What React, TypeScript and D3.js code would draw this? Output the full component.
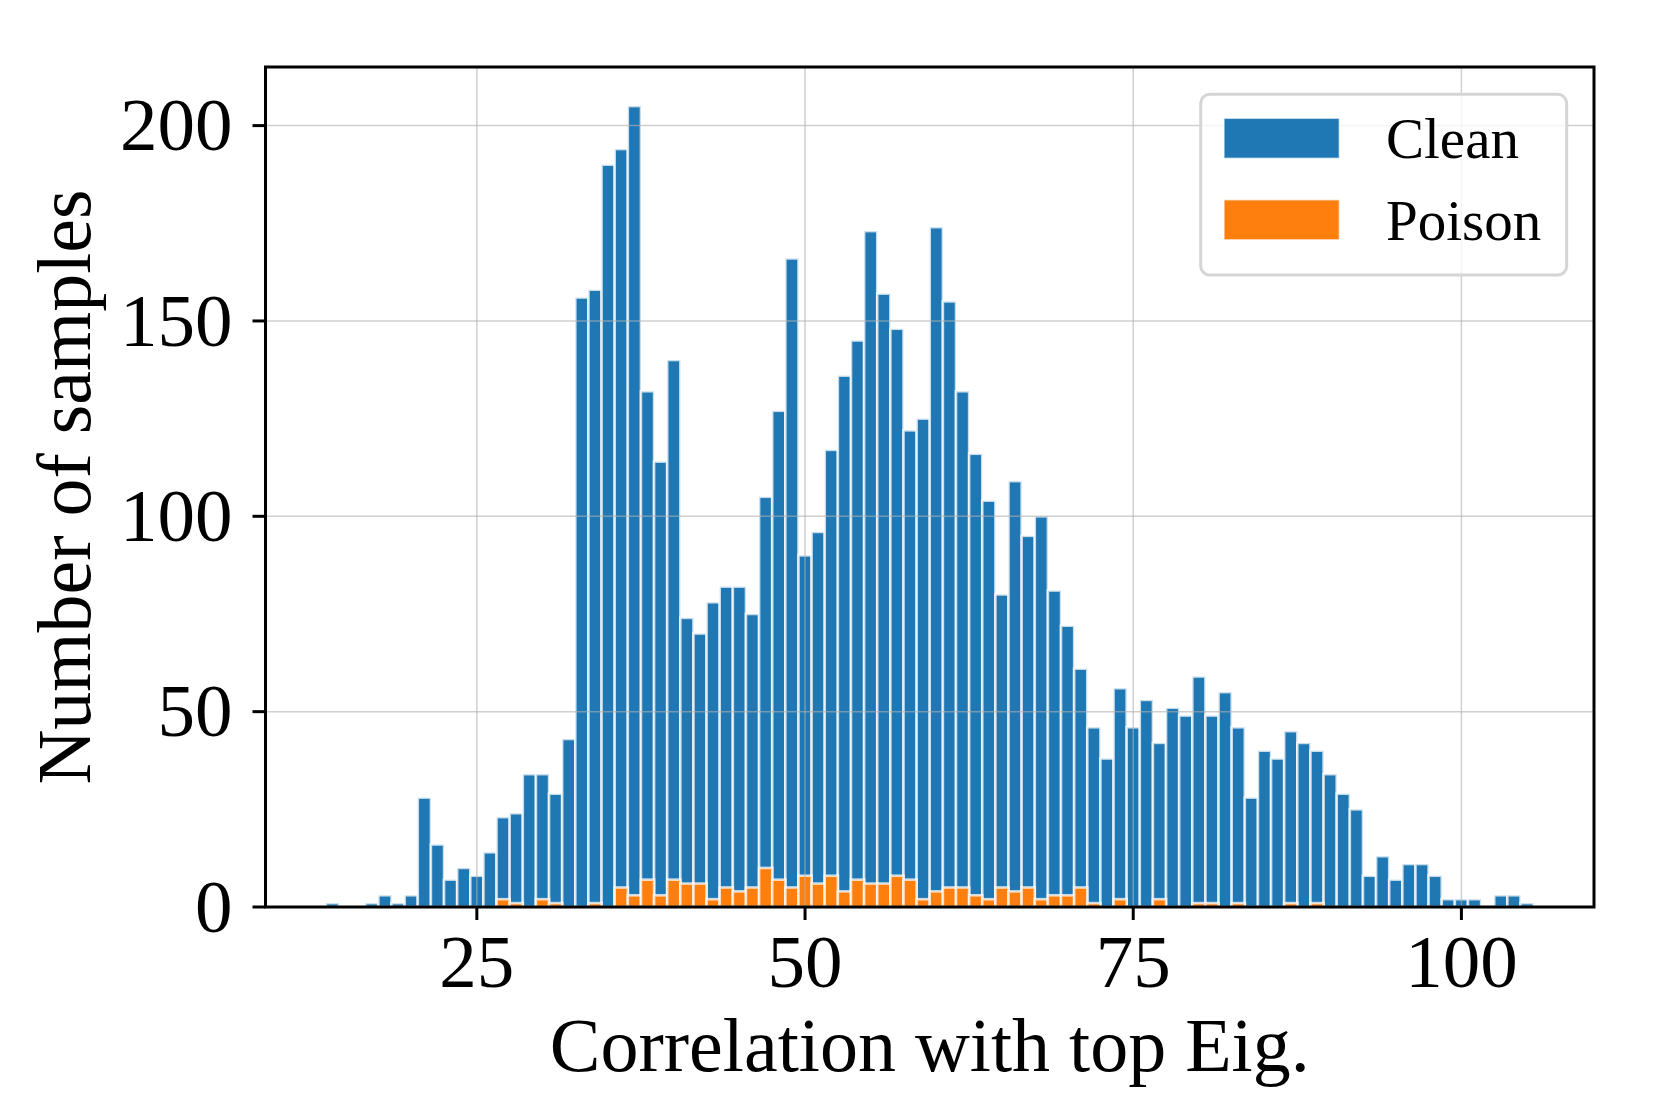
import * as d3 from "d3";

const W = 1661, H = 1107;
const M = { left: 265.5, right: 1594, top: 67, bottom: 907 };
const FONT = "'Liberation Serif', 'Times New Roman', serif";
const BLUE = "#1f77b4", ORANGE = "#ff7f0e";

// histogram bins (centre of each unit-wide bin)
const binCenters = [
  14, 15, 16, 17, 18, 19, 20, 21, 22, 23, 24, 25, 26, 27, 28, 29, 30, 31, 32, 33,
  34, 35, 36, 37, 38, 39, 40, 41, 42, 43, 44, 45, 46, 47, 48, 49, 50, 51, 52, 53,
  54, 55, 56, 57, 58, 59, 60, 61, 62, 63, 64, 65, 66, 67, 68, 69, 70, 71, 72, 73,
  74, 75, 76, 77, 78, 79, 80, 81, 82, 83, 84, 85, 86, 87, 88, 89, 90, 91, 92, 93,
  94, 95, 96, 97, 98, 99, 100, 101, 102, 103, 104, 105,
];

const cleanCounts = [
  1, 0, 0, 1, 3, 1, 3, 28, 16, 7, 10, 8, 14, 23, 24, 34, 34, 29, 43, 156,
  158, 190, 194, 205, 132, 114, 140, 74, 70, 78, 82, 82, 75, 105, 127, 166, 90, 96, 117, 136,
  145, 173, 157, 148, 122, 125, 174, 155, 132, 116, 104, 80, 109, 95, 100, 81, 72, 61, 46, 38,
  56, 46, 53, 42, 51, 49, 59, 49, 55, 46, 28, 40, 38, 45, 42, 40, 34, 29, 25, 8,
  13, 7, 11, 11, 8, 2, 2, 2, 0, 3, 3, 1,
];

const poisonCounts = [
  0, 0, 0, 0, 0, 0, 0, 0, 0, 0, 0, 0, 0, 2, 1, 0, 2, 1, 0, 0,
  1, 0, 5, 3, 7, 3, 7, 6, 6, 2, 5, 4, 5, 10, 7, 5, 8, 6, 8, 4,
  7, 6, 6, 8, 7, 2, 4, 5, 5, 3, 2, 5, 4, 5, 2, 3, 3, 5, 1, 0,
  2, 0, 0, 2, 0, 0, 1, 1, 0, 1, 0, 0, 0, 1, 0, 1, 0, 0, 0, 0,
  0, 0, 0, 0, 0, 0, 0, 0, 0, 0, 0, 0,
];

const xTicks = [25, 50, 75, 100];
const yTicks = [0, 50, 100, 150, 200];
const legendItems = [
  { label: "Clean", color: BLUE },
  { label: "Poison", color: ORANGE },
];

export default function App() {
  const x = d3.scaleLinear([8.9, 110.1], [M.left, M.right]);
  const y = d3.scaleLinear([0, 215], [M.bottom, M.top]);

  const bar = (c: number, v: number, color: string, key: string) => {
    if (v <= 0) return null;
    const x0 = x(c - 0.5), x1 = x(c + 0.5);
    return (
      <rect key={key} x={x0} y={y(v)} width={x1 - x0} height={y(0) - y(v)}
        fill={color} stroke="#ffffff" strokeOpacity={0.75} strokeWidth={2.6} />
    );
  };

  return (
    <svg width={W} height={H} style={{ position: "absolute", left: 0, top: 0, background: "#fff", display: "block" }}
      fontFamily={FONT}>
      <rect width={W} height={H} fill="#fff" />

      {/* bars */}
      <g>{binCenters.map((c, i) => bar(c, cleanCounts[i], BLUE, "c" + i))}</g>
      <g>{binCenters.map((c, i) => bar(c, poisonCounts[i], ORANGE, "p" + i))}</g>

      {/* grid */}
      <g stroke="#b0b0b0" strokeOpacity={0.6} strokeWidth={1.5}>
        {xTicks.map((t) => <line key={t} x1={x(t)} x2={x(t)} y1={M.top} y2={M.bottom} />)}
        {yTicks.map((t) => <line key={t} x1={M.left} x2={M.right} y1={y(t)} y2={y(t)} />)}
      </g>

      {/* frame */}
      <rect x={M.left} y={M.top} width={M.right - M.left} height={M.bottom - M.top}
        fill="none" stroke="#000" strokeWidth={3} />

      {/* y axis */}
      <g>
        {yTicks.map((t) => (
          <g key={t}>
            <line x1={M.left - 13} x2={M.left} y1={y(t)} y2={y(t)} stroke="#000" strokeWidth={3} />
            <text x={M.left - 33} y={y(t)} dy="0.33em" textAnchor="end" fontSize={75}>{t}</text>
          </g>
        ))}
      </g>

      {/* x axis */}
      <g>
        {xTicks.map((t) => (
          <g key={t}>
            <line x1={x(t)} x2={x(t)} y1={M.bottom} y2={M.bottom + 13} stroke="#000" strokeWidth={3} />
            <text x={x(t)} y={987} textAnchor="middle" fontSize={75}>{t}</text>
          </g>
        ))}
      </g>

      <text x={(M.left + M.right) / 2} y={1071} textAnchor="middle" fontSize={76}>
        Correlation with top Eig.
      </text>
      <text transform={`translate(90,${(M.top + M.bottom) / 2}) rotate(-90)`} textAnchor="middle" fontSize={76}>
        Number of samples
      </text>

      {/* legend */}
      <g>
        <rect x={1200.7} y={94.3} width={366} height={180.7} rx={9} ry={9}
          fill="#fff" fillOpacity={0.8} stroke="#d5d5d5" strokeWidth={3} />
        {legendItems.map((d, i) => (
          <g key={d.label} transform={`translate(0,${i * 81.5})`}>
            <rect x={1224} y={118.3} width={115.3} height={40} fill={d.color}
              stroke="#ffffff" strokeOpacity={0.6} strokeWidth={1.5} />
            <text x={1386} y={158.3} fontSize={57}>{d.label}</text>
          </g>
        ))}
      </g>
    </svg>
  );
}
